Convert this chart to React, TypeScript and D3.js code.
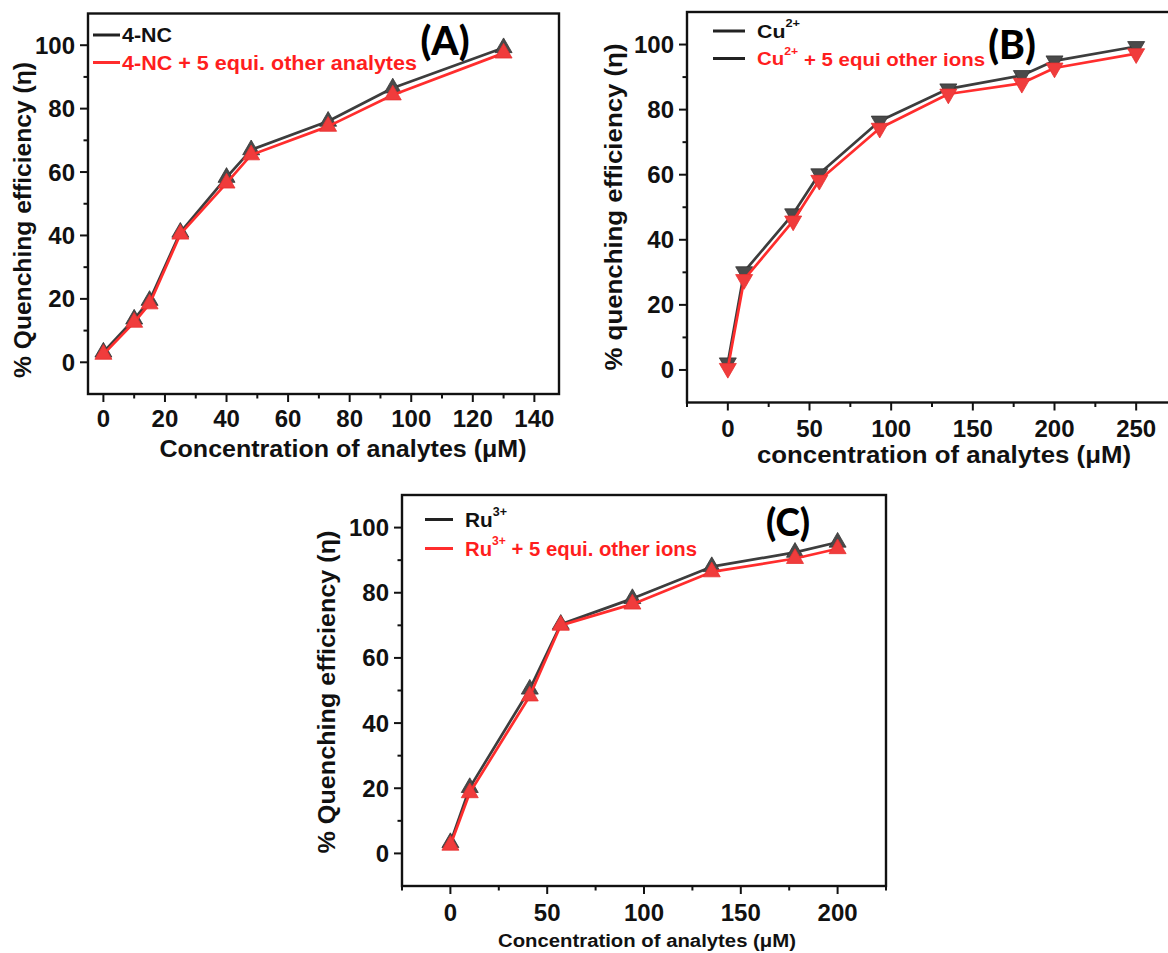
import React from "react";
import * as d3 from "d3";

// ---------- DATA ----------
const A_X = [0, 10, 15, 25, 40, 48, 73, 94, 130];
const A_PURE = [3.2, 13.6, 19.5, 41, 58.3, 67, 76, 86.5, 99.2];
const A_MIX = [2.5, 12.6, 18.4, 40.4, 56.5, 65.4, 74.4, 84.3, 97.5];

const B_X = [0, 10, 40, 56, 93, 135, 180, 200, 250];
const B_PURE = [2.2, 30.2, 48, 60.3, 76.5, 86.4, 90.5, 95, 99.4];
const B_MIX = [0.5, 27.8, 45.8, 58.3, 74.3, 84.8, 88.1, 92.8, 97.2];

const C_X = [0, 10, 41, 57, 94, 135, 178, 200];
const C_PURE = [3.3, 20.2, 50.4, 70.3, 78.2, 88, 92.4, 95.5];
const C_MIX = [2.5, 18.6, 48.3, 70, 76.5, 86.4, 90.5, 93.5];

const A_XTICKS = [0, 20, 40, 60, 80, 100, 120, 140];
const A_XMINOR = [10, 30, 50, 70, 90, 110, 130];
const B_XTICKS = [0, 50, 100, 150, 200, 250];
const B_XMINOR = [-25, 25, 75, 125, 175, 225];
const C_XTICKS = [0, 50, 100, 150, 200];
const C_XMINOR = [-25, 25, 75, 125, 175, 225];
const Y_TICKS = [0, 20, 40, 60, 80, 100];
const Y_MINOR = [10, 30, 50, 70, 90];

const BLACK_LINE = "#3d3d3d";
const BLACK_MARK = "#4a4a4a";
const RED_LINE = "#ff2d2d";
const RED_MARK = "#f03c3c";
const RED_TEXT = "#ff1e1e";
const FONT = "'Liberation Sans', Arial, sans-serif";
const TAGFONT = "Lato, 'Open Sans', sans-serif";

type LegendItem = { base: string; sup?: string; rest?: string; color: string; lineColor: string; len: number };

type PanelProps = {
  box: { l: number; r: number; t: number; b: number };
  xDomain: [number, number];
  yDomain: [number, number];
  xTicks: number[];
  xMinor: number[];
  xs: number[];
  pure: number[];
  mix: number[];
  down?: boolean;
  markSize: number;
  legend: LegendItem[];
  legendPos: { x1: number; x2: number; tx: number; y: number[]; size: number };
  tag: { text: string; x: number; y: number; size: number };
  xTitle: { text: string; x: number; y: number; size: number; len: number };
  yTitle: { text: string; x: number; y: number; size: number; len: number };
  tickFont: number;
  xLabelY: number;
  clipId: string;
};

function Panel(p: PanelProps) {
  const x = d3.scaleLinear().domain(p.xDomain).range([p.box.l, p.box.r]);
  const y = d3.scaleLinear().domain(p.yDomain).range([p.box.b, p.box.t]);
  const line = d3
    .line<number>()
    .x((_, i) => x(p.xs[i]))
    .y((v) => y(v));
  const sym = d3.symbol().type(d3.symbolTriangle).size(p.markSize)() || "";
  const rot = p.down ? 180 : 0;
  const series = [
    { vals: p.pure, lc: BLACK_LINE, mc: BLACK_MARK, ms: "#333" },
    { vals: p.mix, lc: RED_LINE, mc: RED_MARK, ms: "#e83030" },
  ];
  const { l, r, t, b } = p.box;
  return (
    <g>
      <clipPath id={p.clipId}>
        <rect x={l} y={t - 20} width={r - l + 20} height={b - t + 40} />
      </clipPath>
      <rect x={l} y={t} width={r - l} height={b - t} fill="none" stroke="#111" strokeWidth={2.4} />
      {p.xTicks.map((v) => (
        <g key={"xt" + v}>
          <line x1={x(v)} x2={x(v)} y1={b} y2={b + 8} stroke="#111" strokeWidth={2} />
          <text
            x={x(v)}
            y={p.xLabelY}
            textAnchor="middle"
            dominantBaseline="central"
            fontFamily={FONT}
            fontWeight="bold"
            fontSize={p.tickFont}
            fill="#111"
          >
            {v}
          </text>
        </g>
      ))}
      {p.xMinor.map((v) => (
        <line key={"xm" + v} x1={x(v)} x2={x(v)} y1={b} y2={b + 4.5} stroke="#111" strokeWidth={2} />
      ))}
      {Y_TICKS.map((v) => (
        <g key={"yt" + v}>
          <line x1={l - 8} x2={l} y1={y(v)} y2={y(v)} stroke="#111" strokeWidth={2} />
          <text
            x={l - 13}
            y={y(v)}
            textAnchor="end"
            dominantBaseline="central"
            fontFamily={FONT}
            fontWeight="bold"
            fontSize={p.tickFont}
            fill="#111"
          >
            {v}
          </text>
        </g>
      ))}
      {Y_MINOR.map((v) => (
        <line key={"ym" + v} x1={l - 4.5} x2={l} y1={y(v)} y2={y(v)} stroke="#111" strokeWidth={2} />
      ))}
      <g clipPath={`url(#${p.clipId})`}>
        {series.map((s, si) => (
          <g key={"s" + si}>
            <path d={line(s.vals) || ""} fill="none" stroke={s.lc} strokeWidth={2.7} strokeLinejoin="round" />
            {s.vals.map((v, i) => (
              <path
                key={i}
                d={sym}
                transform={`translate(${x(p.xs[i])},${y(v)}) rotate(${rot})`}
                fill={s.mc}
                stroke={s.ms}
                strokeWidth={0.8}
              />
            ))}
          </g>
        ))}
      </g>
      {p.legend.map((it, i) => (
        <g key={"lg" + i}>
          <line
            x1={p.legendPos.x1}
            x2={p.legendPos.x2}
            y1={p.legendPos.y[i]}
            y2={p.legendPos.y[i]}
            stroke={it.lineColor}
            strokeWidth={3}
          />
          <text
            x={p.legendPos.tx}
            y={p.legendPos.y[i]}
            dominantBaseline="central"
            fontFamily={FONT}
            fontWeight="bold"
            fontSize={p.legendPos.size}
            fill={it.color}
            textLength={it.len}
            lengthAdjust="spacingAndGlyphs"
          >
            {it.base}
            {it.sup ? (
              <tspan dy={-8} fontSize={p.legendPos.size * 0.6}>
                {it.sup}
              </tspan>
            ) : null}
            {it.rest ? <tspan dy={it.sup ? 8 : 0}>{it.rest}</tspan> : null}
          </text>
        </g>
      ))}
      <text
        x={p.tag.x}
        y={p.tag.y}
        textAnchor="middle"
        dominantBaseline="central"
        fontFamily={TAGFONT}
        fontWeight={900}
        fontSize={p.tag.size}
        fill="#000"
      >
        {p.tag.text}
      </text>
      <text
        x={p.xTitle.x}
        y={p.xTitle.y}
        textAnchor="middle"
        dominantBaseline="central"
        fontFamily={FONT}
        fontWeight="bold"
        fontSize={p.xTitle.size}
        textLength={p.xTitle.len}
        lengthAdjust="spacingAndGlyphs"
        fill="#111"
      >
        {p.xTitle.text}
      </text>
      <text
        transform={`translate(${p.yTitle.x},${p.yTitle.y}) rotate(-90)`}
        textAnchor="middle"
        dominantBaseline="central"
        fontFamily={FONT}
        fontWeight="bold"
        fontSize={p.yTitle.size}
        textLength={p.yTitle.len}
        lengthAdjust="spacingAndGlyphs"
        fill="#111"
      >
        {p.yTitle.text}
      </text>
    </g>
  );
}

export default function App() {
  return (
    <svg
      width={1168}
      height={953}
      viewBox="0 0 1168 953"
      style={{ position: "absolute", left: 0, top: 0, background: "#fff" }}
    >
      <rect x={0} y={0} width={1168} height={953} fill="#fff" />
      <Panel
        clipId="clipA"
        box={{ l: 88, r: 559, t: 13.5, b: 394 }}
        xDomain={[-5, 148]}
        yDomain={[-10, 110]}
        xTicks={A_XTICKS}
        xMinor={A_XMINOR}
        xs={A_X}
        pure={A_PURE}
        mix={A_MIX}
        markSize={125}
        legend={[
          { base: "4-NC", color: "#111", lineColor: "#222", len: 50 },
          { base: "4-NC + 5 equi. other analytes", color: RED_TEXT, lineColor: RED_LINE, len: 295 },
        ]}
        legendPos={{ x1: 93, x2: 120, tx: 122, y: [35, 62.5], size: 20 }}
        tag={{ text: "(A)", x: 445, y: 40, size: 39 }}
        xTitle={{ text: "Concentration of analytes (\u03bcM)", x: 343, y: 449, size: 23, len: 367 }}
        yTitle={{ text: "% Quenching efficiency (\u03b7)", x: 23, y: 220, size: 23, len: 316 }}
        tickFont={24}
        xLabelY={418}
      />
      <Panel
        clipId="clipB"
        box={{ l: 687, r: 1177, t: 12, b: 402.5 }}
        xDomain={[-25, 275]}
        yDomain={[-10, 110]}
        xTicks={B_XTICKS}
        xMinor={B_XMINOR}
        xs={B_X}
        pure={B_PURE}
        mix={B_MIX}
        down
        markSize={125}
        legend={[
          { base: "Cu", sup: "2+", color: "#111", lineColor: "#222", len: 43 },
          { base: "Cu", sup: "2+", rest: " + 5 equi other ions", color: RED_TEXT, lineColor: "#222", len: 228 },
        ]}
        legendPos={{ x1: 713, x2: 745, tx: 757, y: [31, 58.5], size: 19 }}
        tag={{ text: "(B)", x: 1012, y: 44, size: 39 }}
        xTitle={{ text: "concentration of analytes (\u03bcM)", x: 944, y: 455, size: 23, len: 374 }}
        yTitle={{ text: "% quenching efficiency (\u03b7)", x: 614, y: 207, size: 23, len: 327 }}
        tickFont={24}
        xLabelY={428}
      />
      <Panel
        clipId="clipC"
        box={{ l: 402, r: 886, t: 495, b: 886 }}
        xDomain={[-25, 225]}
        yDomain={[-10, 110]}
        xTicks={C_XTICKS}
        xMinor={C_XMINOR}
        xs={C_X}
        pure={C_PURE}
        mix={C_MIX}
        markSize={125}
        legend={[
          { base: "Ru", sup: "3+", color: "#111", lineColor: "#222", len: 42 },
          { base: "Ru", sup: "3+", rest: " + 5 equi. other ions", color: RED_TEXT, lineColor: RED_LINE, len: 232 },
        ]}
        legendPos={{ x1: 425, x2: 453, tx: 465, y: [519.5, 548.5], size: 20 }}
        tag={{ text: "(C)", x: 788, y: 521, size: 37 }}
        xTitle={{ text: "Concentration of analytes (\u03bcM)", x: 647, y: 941, size: 18, len: 298 }}
        yTitle={{ text: "% Quenching efficiency (\u03b7)", x: 327, y: 692, size: 23, len: 323 }}
        tickFont={24}
        xLabelY={912}
      />
    </svg>
  );
}
